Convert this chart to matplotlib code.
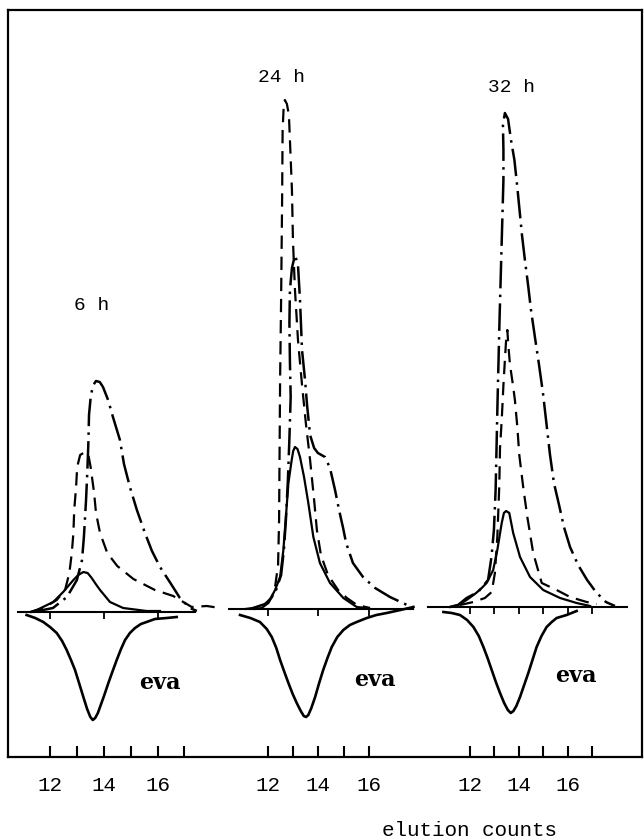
import matplotlib
matplotlib.use("Agg")
import matplotlib.pyplot as plt

# Elution profiles (x in elution counts, y in relative response)

# 6 h
h6_dashdot_x = [11.37, 12.11, 12.63, 13.00, 13.19, 13.26, 13.34, 13.39, 13.43, 13.45, 13.52, 13.61,
                13.71, 13.85, 13.97, 14.16, 14.34, 14.60, 14.75, 14.97, 15.23, 15.53, 15.79, 16.09,
                16.50, 16.83, 17.20, 17.46]
h6_dashdot_y = [0.0, 0.4, 1.5, 3.2, 5.2, 7.5, 11.2, 14.2, 17.2, 19.7, 21.7, 22.7,
                23.1, 23.0, 22.5, 21.2, 19.5, 17.2, 14.8, 12.5, 10.2, 7.9, 6.1, 4.5,
                2.8, 1.4, 0.4, 0.1]
h6_dashed_x = [11.26, 11.75, 12.25, 12.56, 12.72, 12.81, 12.87, 12.90, 12.97, 13.01, 13.12, 13.30,
               13.42, 13.51, 13.64, 13.71, 13.86, 14.13, 14.50, 15.10, 15.90, 16.58, 17.27, 17.83,
               18.32]
h6_dashed_y = [0.0, 0.4, 1.2, 2.2, 3.9, 5.9, 7.9, 10.2, 12.5, 14.5, 15.7, 16.0,
               15.8, 14.5, 11.9, 9.9, 7.9, 5.9, 4.6, 3.3, 2.2, 1.6, 0.5, 0.6,
               0.4]
h6_solid_x = [11.30, 11.51, 12.12, 12.49, 12.87, 13.05, 13.24, 13.40, 13.55, 13.70, 13.86, 14.23,
              14.72, 15.59, 16.09]
h6_solid_y = [0.0, 0.2, 1.0, 2.0, 3.2, 3.7, 4.0, 3.9, 3.4, 2.8, 2.2, 1.0,
              0.4, 0.1, 0.1]
h6_eva_x = [11.13, 11.45, 11.75, 12.00, 12.25, 12.45, 12.62, 12.78, 12.93, 13.08, 13.24, 13.38,
            13.50, 13.59, 13.68, 13.78, 13.86, 14.02, 14.17, 14.33, 14.48, 14.64, 14.79, 14.97,
            15.16, 15.38, 15.59, 15.90, 16.34, 16.71]
h6_eva_y = [-0.3, -0.6, -1.0, -1.5, -2.1, -2.9, -3.8, -4.8, -5.8, -7.1, -8.5, -9.7,
            -10.5, -10.8, -10.6, -10.1, -9.5, -8.3, -7.1, -5.9, -4.8, -3.7, -2.8, -2.1,
            -1.6, -1.2, -1.0, -0.7, -0.6, -0.5]

# 24 h
h24_dashed_x = [11.09, 11.76, 12.16, 12.28, 12.40, 12.44, 12.46, 12.48, 12.52, 12.56, 12.58, 12.62,
                12.67, 12.75, 12.83, 12.87, 12.95, 12.99, 13.07, 13.19, 13.35, 13.51, 13.67, 13.83,
                13.94, 14.10, 14.38, 14.78, 15.13, 15.53, 16.05]
h24_dashed_y = [0.0, 0.2, 1.2, 2.2, 4.4, 8.9, 15.9, 22.9, 30.9, 40.9, 47.9, 50.1,
                50.9, 50.5, 49.4, 46.9, 41.9, 36.9, 31.9, 26.9, 22.4, 18.4, 14.9, 10.9,
                7.9, 5.4, 3.4, 1.9, 1.1, 0.4, 0.1]
h24_dashdot_x = [11.29, 12.00, 12.32, 12.52, 12.63, 12.71, 12.79, 12.85, 12.90, 12.87, 12.85, 12.87,
                 12.95, 13.07, 13.19, 13.27, 13.35, 13.47, 13.55, 13.67, 13.83, 13.98, 14.26, 14.46,
                 14.66, 14.82, 14.98, 15.10, 15.37, 15.77, 16.25, 16.84, 17.52, 17.75]
h24_dashdot_y = [0.0, 0.6, 1.9, 3.4, 5.9, 8.9, 12.9, 17.1, 21.2, 24.7, 28.6, 31.9,
                 34.1, 35.4, 34.4, 30.9, 25.9, 22.9, 20.4, 17.4, 16.1, 15.6, 15.2, 14.1,
                 11.9, 9.9, 8.1, 6.6, 4.6, 3.2, 2.1, 1.2, 0.4, 0.2]
h24_solid_x = [11.48, 11.75, 12.01, 12.28, 12.48, 12.61, 12.71, 12.81, 12.94, 13.00, 13.07, 13.17,
               13.27, 13.43, 13.60, 13.80, 14.06, 14.46, 14.99, 15.52, 15.92]
h24_solid_y = [0.0, 0.1, 0.6, 1.9, 3.2, 5.9, 9.2, 12.6, 14.9, 15.8, 16.2, 16.0,
               15.2, 13.2, 10.6, 7.2, 4.6, 2.6, 1.1, 0.2, 0.1]
h24_eva_x = [10.89, 11.30, 11.68, 11.95, 12.15, 12.33, 12.48, 12.65, 12.81, 12.98, 13.14, 13.30,
             13.42, 13.51, 13.60, 13.72, 13.87, 14.03, 14.19, 14.36, 14.53, 14.75, 14.99, 15.25,
             15.52, 15.92, 16.30, 16.71, 17.25, 17.77]
h24_eva_y = [-0.6, -0.9, -1.3, -2.0, -2.8, -3.9, -5.1, -6.3, -7.4, -8.5, -9.4, -10.2,
             -10.7, -10.8, -10.6, -9.9, -8.8, -7.4, -6.1, -4.9, -3.8, -2.8, -2.1, -1.6,
             -1.3, -0.9, -0.6, -0.4, -0.1, 0.2]

# 32 h
h32_dashdot_x = [11.18, 11.51, 11.86, 12.33, 12.74, 12.88, 12.98, 13.05, 13.09, 13.13, 13.17, 13.21,
                 13.25, 13.29, 13.33, 13.37, 13.37, 13.35, 13.43, 13.56, 13.68, 13.82, 13.93, 14.03,
                 14.13, 14.25, 14.38, 14.50, 14.66, 14.83, 14.99, 15.14, 15.28, 15.44, 15.65, 15.85,
                 16.10, 16.43, 16.80, 17.16, 17.57, 17.94]
h32_dashdot_y = [0.0, 0.2, 0.9, 1.5, 2.7, 5.0, 7.7, 11.7, 16.2, 20.7, 24.7, 28.7,
                 32.2, 35.7, 39.2, 42.7, 45.7, 48.2, 49.4, 48.8, 46.7, 44.7, 42.2, 39.7,
                 37.2, 34.7, 32.2, 29.7, 27.0, 24.2, 21.4, 18.2, 15.2, 12.4, 10.2, 8.0,
                 6.0, 4.2, 2.7, 1.5, 0.5, 0.1]
h32_dashed_x = [11.59, 12.14, 12.61, 12.89, 13.02, 13.12, 13.20, 13.23, 13.30, 13.37, 13.43, 13.48,
                13.53, 13.57, 13.64, 13.76, 13.84, 13.94, 14.02, 14.18, 14.35, 14.59, 14.94, 15.55,
                16.10, 16.78, 17.19]
h32_dashed_y = [0.2, 0.5, 0.9, 1.5, 3.4, 7.0, 12.1, 15.9, 18.7, 22.2, 24.7, 26.7,
                27.7, 26.2, 24.2, 22.2, 20.7, 18.0, 15.2, 12.0, 9.0, 5.4, 2.4, 1.7,
                1.0, 0.5, 0.3]
h32_solid_x = [11.18, 11.52, 11.86, 12.25, 12.48, 12.68, 12.95, 13.12, 13.30, 13.39, 13.48, 13.61,
               13.77, 14.05, 14.46, 15.00, 15.69, 16.37, 16.92]
h32_solid_y = [0.0, 0.2, 0.7, 1.4, 1.9, 2.4, 3.7, 5.7, 8.4, 9.4, 9.6, 9.4,
               7.4, 5.0, 3.0, 1.7, 0.9, 0.4, 0.1]
h32_eva_x = [10.91, 11.25, 11.59, 11.88, 12.14, 12.36, 12.55, 12.72, 12.89, 13.06, 13.23, 13.40,
             13.55, 13.67, 13.78, 13.90, 14.05, 14.22, 14.39, 14.56, 14.73, 14.93, 15.14, 15.35,
             15.55, 15.96, 16.37]
h32_eva_y = [-0.5, -0.6, -0.8, -1.3, -2.0, -2.9, -4.0, -5.1, -6.3, -7.5, -8.6, -9.6,
             -10.3, -10.6, -10.4, -9.9, -9.0, -7.8, -6.6, -5.3, -4.0, -2.9, -2.0, -1.5,
             -1.1, -0.8, -0.4]

panel_labels = ["6 h", "24 h", "32 h"]
label_x = [13.56, 12.52, 13.72]
label_y = [30.7, 53.1, 52.0]
eva_x = [16.09, 16.25, 16.34]
eva_y = [-7.1, -7.1, -6.9]
baseline_start = [10.81, 9.98, 10.28]
baseline_end = [17.39, 17.75, 18.43]
baseline_marks = [[12, 14, 16], [12, 14, 16], [12, 13, 14, 15, 16, 17]]
axis_ticks = [[12, 13, 14, 15, 16, 17], [12, 13, 14, 15, 16], [12, 13, 14, 15, 16, 17]]
tick_labels = [12, 14, 16]

panels = [
    (h6_dashed_x, h6_dashed_y, h6_dashdot_x, h6_dashdot_y, h6_solid_x, h6_solid_y, h6_eva_x, h6_eva_y),
    (h24_dashed_x, h24_dashed_y, h24_dashdot_x, h24_dashdot_y, h24_solid_x, h24_solid_y, h24_eva_x, h24_eva_y),
    (h32_dashed_x, h32_dashed_y, h32_dashdot_x, h32_dashdot_y, h32_solid_x, h32_solid_y, h32_eva_x, h32_eva_y),
]

# layout in pixels of the 644x839 page
W, H = 644, 839
frame_l, frame_r, frame_t, frame_b = 8, 642, 10, 757
panel_l = [12, 228, 425]
panel_r = [228, 425, 640]
x12_px = [50, 268, 470]       # pixel position of count 12 in each panel
px_per_count = [26.9, 25.2, 24.4]
base_px = [612, 609, 607]     # baseline row of each panel

mono = "Liberation Mono"

fig = plt.figure(figsize=(W / 100, H / 100), dpi=100)

# outer frame
frame = fig.add_axes([frame_l / W, 1 - frame_b / H, (frame_r - frame_l) / W, (frame_b - frame_t) / H])
frame.set_xticks([])
frame.set_yticks([])
for s in frame.spines.values():
    s.set_linewidth(1.6)

dashed = (0, (6, 3.5))
dashdot = (0, (11, 2.5, 1, 2.5))

for i, (dx, dy, ddx, ddy, sx, sy, ex, ey) in enumerate(panels):
    ax = fig.add_axes([panel_l[i] / W, 1 - frame_b / H, (panel_r[i] - panel_l[i]) / W, (frame_b - frame_t) / H])
    ax.patch.set_visible(False)
    for s in ax.spines.values():
        s.set_visible(False)
    ax.set_xlim(12 + (panel_l[i] - x12_px[i]) / px_per_count[i],
                12 + (panel_r[i] - x12_px[i]) / px_per_count[i])
    ax.set_ylim(-(frame_b - base_px[i]) / 10, (base_px[i] - frame_t) / 10)

    # baseline with small marks
    ax.plot([baseline_start[i], baseline_end[i]], [0, 0], color="black", lw=1.5)
    ax.vlines(baseline_marks[i], -0.7, 0, color="black", lw=1.3)

    ax.plot(dx, dy, color="black", lw=1.6, linestyle=dashed)
    ax.plot(ddx, ddy, color="black", lw=1.8, linestyle=dashdot)
    ax.plot(sx, sy, color="black", lw=1.6, solid_joinstyle="round")
    ax.plot(ex, ey, color="black", lw=1.9, solid_joinstyle="round")

    ax.text(label_x[i], label_y[i], panel_labels[i], ha="center", va="center",
            family=mono, fontsize=14)
    ax.text(eva_x[i], eva_y[i], "eva", ha="center", va="center",
            family="DejaVu Serif", fontweight="bold", fontsize=16)

    ax.set_yticks([])
    ax.set_xticks(axis_ticks[i])
    ax.set_xticklabels([str(t) if t in tick_labels else "" for t in axis_ticks[i]],
                       family=mono, fontsize=15)
    ax.tick_params(axis="x", direction="in", length=8, width=1.5, pad=14)

fig.text(470 / W, 1 - 830 / H, "elution counts", ha="center", va="center",
         family=mono, fontsize=15)

fig.savefig("out.png", dpi=100)
